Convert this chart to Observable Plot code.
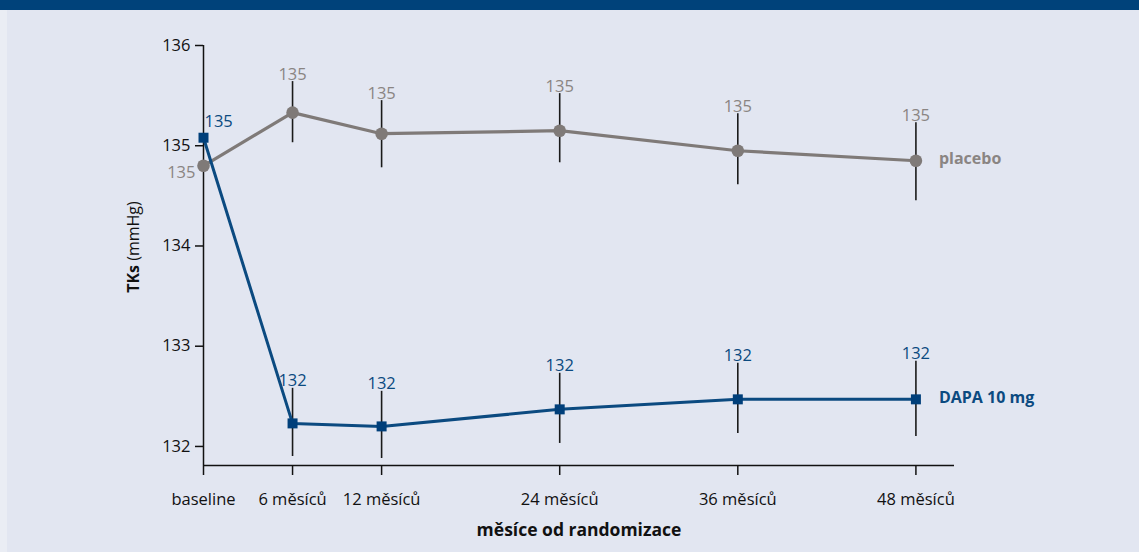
<!DOCTYPE html>
<html>
<head>
<meta charset="utf-8">
<script src="https://cdn.jsdelivr.net/npm/d3@7"></script>
<script src="https://cdn.jsdelivr.net/npm/@observablehq/plot@0.6"></script>
<style>
  html, body { margin: 0; padding: 0; background: #eaedf4; }
  #wrap { width: 1139px; height: 552px; position: relative; overflow: hidden; }
  #band { position: absolute; left: 0; top: 0; width: 1139px; height: 10px; background: #00427a; }
  #panel { position: absolute; left: 7px; top: 10px; width: 1132px; height: 542px; background: #e2e6f1; }
  #chart { position: absolute; left: 0; top: 10px; }
  #chart svg { display: block; }
</style>
</head>
<body>
<div id="wrap">
  <div id="band"></div>
  <div id="panel"></div>
  <div id="chart"></div>
</div>
<script>
const months = [0, 6, 12, 24, 36, 48];
const tickLabels = ["baseline", "6 měsíců", "12 měsíců", "24 měsíců", "36 měsíců", "48 měsíců"];
const yTicks = [132, 133, 134, 135, 136];

const placeboMean = [134.80, 135.33, 135.12, 135.15, 134.95, 134.85];
const placeboLow  = [null, 135.03, 134.78, 134.83, 134.61, 134.45];
const placeboHigh = [null, 135.64, 135.45, 135.52, 135.32, 135.23];
const placeboLabels = ["135", "135", "135", "135", "135", "135"];

const dapaMean = [135.08, 132.23, 132.20, 132.37, 132.47, 132.47];
const dapaLow  = [null, 131.90, 131.88, 132.03, 132.13, 132.10];
const dapaHigh = [null, 132.58, 132.55, 132.73, 132.83, 132.85];
const dapaLabels = ["135", "132", "132", "132", "132", "132"];

const seriesNames = ["placebo", "DAPA 10 mg"];

const GRAY = "#7f7a78";
const GRAY_TXT = "#8a8583";
const BLUE = "#0b4a80";
const BLUE_MK = "#003f7a";
const FONT = "'Open Sans', 'Noto Sans', sans-serif";

const mk = (mean, low, high, labels, name) => months.map((m, i) => ({
  month: m, mean: mean[i], low: low[i], high: high[i], label: labels[i], series: name
}));
const placebo = mk(placeboMean, placeboLow, placeboHigh, placeboLabels, seriesNames[0]);
const dapa = mk(dapaMean, dapaLow, dapaHigh, dapaLabels, seriesNames[1]);
const all = placebo.concat(dapa);

const yMin = 131.81, yMax = 136;

const chart = Plot.plot({
  width: 1139,
  height: 542,
  marginLeft: 203,
  marginRight: 185,
  marginTop: 35,
  marginBottom: 87,
  style: { fontFamily: FONT, background: "transparent", overflow: "visible" },
  x: { domain: [0, 50.6] },
  y: { domain: [yMin, yMax] },
  marks: [
    Plot.ruleX([0], { y1: yMin, y2: yMax, stroke: "#111", strokeWidth: 1.5 }),
    Plot.ruleY([yMin], { x1: 0, x2: 50.6, stroke: "#111", strokeWidth: 1.5 }),
    Plot.axisY({ ticks: yTicks, tickFormat: d3.format("d"), tickSize: 8, tickPadding: 5, fontSize: 16.5, label: null, stroke: "#111", fill: "#111", strokeWidth: 1.5 }),
    Plot.axisX({ ticks: months, tickFormat: (d) => tickLabels[months.indexOf(d)], tickSize: 10, tickPadding: 18, fontSize: 16.5, label: null, stroke: "#111", fill: "#111", strokeWidth: 1.5 }),
    Plot.text(["měsíce od randomizace"], { frameAnchor: "bottom", dy: 70, fontSize: 17.5, fontWeight: "bold", fill: "#111" }),
    Plot.ruleX(all.filter(d => d.low != null), { x: "month", y1: "low", y2: "high", stroke: "#1a1a1a", strokeWidth: 1.6 }),
    Plot.line(placebo, { x: "month", y: "mean", stroke: GRAY, strokeWidth: 3.2 }),
    Plot.line(dapa, { x: "month", y: "mean", stroke: BLUE, strokeWidth: 3 }),
    Plot.dot(placebo, { x: "month", y: "mean", r: 6.3, fill: GRAY, stroke: "none" }),
    Plot.dot(dapa, { x: "month", y: "mean", r: 5.64, symbol: "square", fill: BLUE_MK, stroke: "none" }),
    Plot.text(placebo.filter(d => d.high != null), { x: "month", y: "high", text: "label", lineAnchor: "bottom", dy: -2, fill: GRAY_TXT, fontSize: 16.5 }),
    Plot.text(dapa.filter(d => d.high != null), { x: "month", y: "high", text: "label", lineAnchor: "bottom", dy: -2, fill: BLUE, fontSize: 16.5 }),
    Plot.text(placebo.filter(d => d.month === 0), { x: "month", y: "mean", text: "label", textAnchor: "end", dx: -8, dy: 7, fill: GRAY_TXT, fontSize: 16.5 }),
    Plot.text(dapa.filter(d => d.month === 0), { x: "month", y: "mean", text: "label", textAnchor: "start", dx: 1, dy: -16, fill: BLUE, fontSize: 16.5 }),
    Plot.text(placebo.filter(d => d.month === 48), { x: "month", y: "mean", text: "series", textAnchor: "start", dx: 23, dy: -2, fill: GRAY_TXT, fontSize: 16, fontWeight: "bold" }),
    Plot.text(dapa.filter(d => d.month === 48), { x: "month", y: "mean", text: "series", textAnchor: "start", dx: 23, dy: -1, fill: BLUE, fontSize: 16, fontWeight: "bold" })
  ]
});
document.getElementById("chart").appendChild(chart);

// y-axis title with mixed weights
const svg = d3.select(chart);
const t = svg.append("text")
  .attr("transform", "translate(139,237) rotate(-90)")
  .attr("text-anchor", "middle")
  .attr("font-family", FONT)
  .attr("font-size", 16)
  .attr("fill", "#111");
t.append("tspan").attr("font-weight", "bold").text("TKs");
t.append("tspan").text(" (mmHg)");
</script>
</body>
</html>
